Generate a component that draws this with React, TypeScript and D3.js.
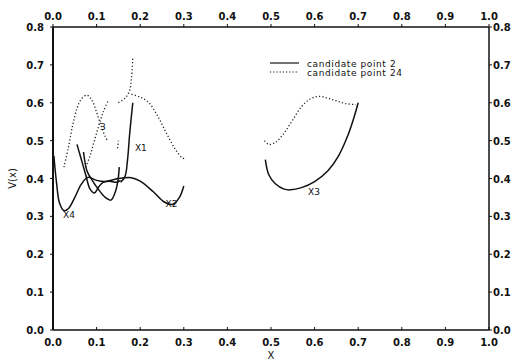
import * as d3 from "d3";

// candidate point 2 (solid)
const solidA = [
  [0.002, 0.46], [0.008, 0.39], [0.015, 0.335], [0.025, 0.315], [0.035, 0.32],
  [0.05, 0.35], [0.065, 0.385], [0.08, 0.403], [0.1, 0.395], [0.12, 0.392],
  [0.15, 0.4], [0.18, 0.402], [0.2, 0.393], [0.23, 0.365], [0.255, 0.338],
  [0.275, 0.332], [0.29, 0.35], [0.3, 0.38],
];
const solidB = [
  [0.055, 0.49], [0.065, 0.45], [0.075, 0.41], [0.085, 0.372], [0.095, 0.362],
  [0.105, 0.378], [0.115, 0.39], [0.13, 0.393], [0.145, 0.39], [0.155, 0.395],
];
const solidC = [
  [0.07, 0.47], [0.078, 0.42], [0.09, 0.395], [0.105, 0.37], [0.12, 0.35],
  [0.133, 0.343], [0.143, 0.365], [0.149, 0.395], [0.152, 0.43],
];
const solidX1 = [
  [0.155, 0.39], [0.165, 0.405], [0.171, 0.45], [0.176, 0.52], [0.183, 0.6],
];
const solidX3 = [
  [0.487, 0.45], [0.495, 0.41], [0.51, 0.386], [0.53, 0.372], [0.545, 0.37],
  [0.57, 0.376], [0.6, 0.392], [0.63, 0.42], [0.655, 0.46], [0.675, 0.51],
  [0.69, 0.56], [0.7, 0.6],
];

// candidate point 24 (dotted)
const dotA = [
  [0.025, 0.43], [0.035, 0.48], [0.045, 0.54], [0.055, 0.585], [0.065, 0.61],
  [0.078, 0.62], [0.09, 0.605], [0.1, 0.575], [0.11, 0.54], [0.12, 0.51], [0.125, 0.5],
];
const dotB = [
  [0.075, 0.43], [0.085, 0.46], [0.095, 0.5], [0.105, 0.54], [0.115, 0.575], [0.127, 0.607],
];
const dotC = [
  [0.15, 0.6], [0.165, 0.612], [0.175, 0.63], [0.18, 0.665], [0.183, 0.72],
];
const dotD = [
  [0.18, 0.622], [0.2, 0.615], [0.22, 0.6], [0.24, 0.565], [0.26, 0.52],
  [0.28, 0.478], [0.295, 0.456], [0.305, 0.45],
];
const dotE = [
  [0.485, 0.5], [0.495, 0.49], [0.51, 0.495], [0.53, 0.52], [0.55, 0.555],
  [0.57, 0.59], [0.59, 0.61], [0.61, 0.617], [0.63, 0.612], [0.65, 0.605],
  [0.67, 0.598], [0.695, 0.595],
];
const dotF = [
  [0.148, 0.48], [0.15, 0.5],
];

const solidSeries = [solidA, solidB, solidC, solidX1, solidX3];
const dottedSeries = [dotA, dotB, dotC, dotD, dotE, dotF];

const xTicks = [0, 0.1, 0.2, 0.3, 0.4, 0.5, 0.6, 0.7, 0.8, 0.9, 1.0];
const yTicks = [0, 0.1, 0.2, 0.3, 0.4, 0.5, 0.6, 0.7, 0.8];

const pointLabels = [
  { text: "X1", x: 0.188, y: 0.472 },
  { text: "X2", x: 0.258, y: 0.325 },
  { text: "X3", x: 0.585, y: 0.356 },
  { text: "X4", x: 0.023, y: 0.296 },
  { text: "3", x: 0.108, y: 0.528 },
];

const legendItems = ["candidate point 2", "candidate point 24"];

const W = 518;
const H = 361;
const left = 53;
const right = 489;
const top = 27;
const bottom = 330;

const App = () => {
  const x = d3.scaleLinear().domain([0, 1]).range([left, right]);
  const y = d3.scaleLinear().domain([0, 0.8]).range([bottom, top]);

  const line = d3
    .line<number[]>()
    .x((d) => x(d[0]))
    .y((d) => y(d[1]))
    .curve(d3.curveCatmullRom);

  const font = "'DejaVu Sans', sans-serif";

  return (
    <div style={{ position: "absolute", left: 0, top: 0 }}>
      <svg width={W} height={H} style={{ display: "block", background: "#fff" }}>
        {/* frame */}
        <line x1={left} x2={right} y1={top} y2={top} stroke="#111" strokeWidth={1.3} />
        <line x1={left} x2={right} y1={bottom} y2={bottom} stroke="#111" strokeWidth={1.3} />
        <line x1={left} x2={left} y1={top} y2={bottom} stroke="#111" strokeWidth={2} />
        <line x1={right} x2={right} y1={top} y2={bottom} stroke="#111" strokeWidth={1.5} />

        {xTicks.map((t) => (
          <g key={"x" + t}>
            <line x1={x(t)} x2={x(t)} y1={top} y2={top - 3} stroke="#111" />
            <line x1={x(t)} x2={x(t)} y1={bottom} y2={bottom - 3} stroke="#111" />
            <text x={x(t)} y={top - 7} fontSize={10} fontWeight="bold" fontFamily={font} textAnchor="middle" fill="#111">
              {t.toFixed(1)}
            </text>
            <text x={x(t)} y={bottom + 16} fontSize={10} fontWeight="bold" fontFamily={font} textAnchor="middle" fill="#111">
              {t.toFixed(1)}
            </text>
          </g>
        ))}
        {yTicks.map((t) => (
          <g key={"y" + t}>
            <line x1={left} x2={left - 3} y1={y(t)} y2={y(t)} stroke="#111" />
            <line x1={right} x2={right + 3} y1={y(t)} y2={y(t)} stroke="#111" />
            <text x={left - 9} y={y(t) + 4} fontSize={10} fontWeight="bold" fontFamily={font} textAnchor="end" fill="#111">
              {t.toFixed(1)}
            </text>
            <text x={right + 4} y={y(t) + 4} fontSize={10} fontWeight="bold" fontFamily={font} textAnchor="start" fill="#111">
              {t.toFixed(1)}
            </text>
          </g>
        ))}

        <text x={(left + right) / 2} y={359} fontSize={10} fontFamily={font} textAnchor="middle" fill="#111">
          X
        </text>
        <text
          transform={`translate(16,${(top + bottom) / 2}) rotate(-90)`}
          fontSize={10}
          fontFamily={font}
          textAnchor="middle"
          fill="#111"
        >
          V(x)
        </text>

        {solidSeries.map((s, i) => (
          <path key={"s" + i} d={line(s) || ""} fill="none" stroke="#111" strokeWidth={1.5} />
        ))}
        {dottedSeries.map((s, i) => (
          <path
            key={"d" + i}
            d={line(s) || ""}
            fill="none"
            stroke="#222"
            strokeWidth={1.3}
            strokeDasharray="1.2 2.2"
          />
        ))}

        {pointLabels.map((p) => (
          <text key={p.text} x={x(p.x)} y={y(p.y)} fontSize={9} fontFamily={font} fill="#111">
            {p.text}
          </text>
        ))}

        {legendItems.map((name, i) => (
          <g key={name} transform={`translate(270,${63 + i * 9})`}>
            <line
              x1={0}
              x2={29}
              y1={0}
              y2={0}
              stroke="#111"
              strokeWidth={1.2}
              strokeDasharray={i === 0 ? undefined : "1.2 2"}
            />
            <text x={37} y={3.5} fontSize={9} fontFamily={font} fill="#111" letterSpacing={0.6}>
              {name}
            </text>
          </g>
        ))}
      </svg>
    </div>
  );
};

export default App;
